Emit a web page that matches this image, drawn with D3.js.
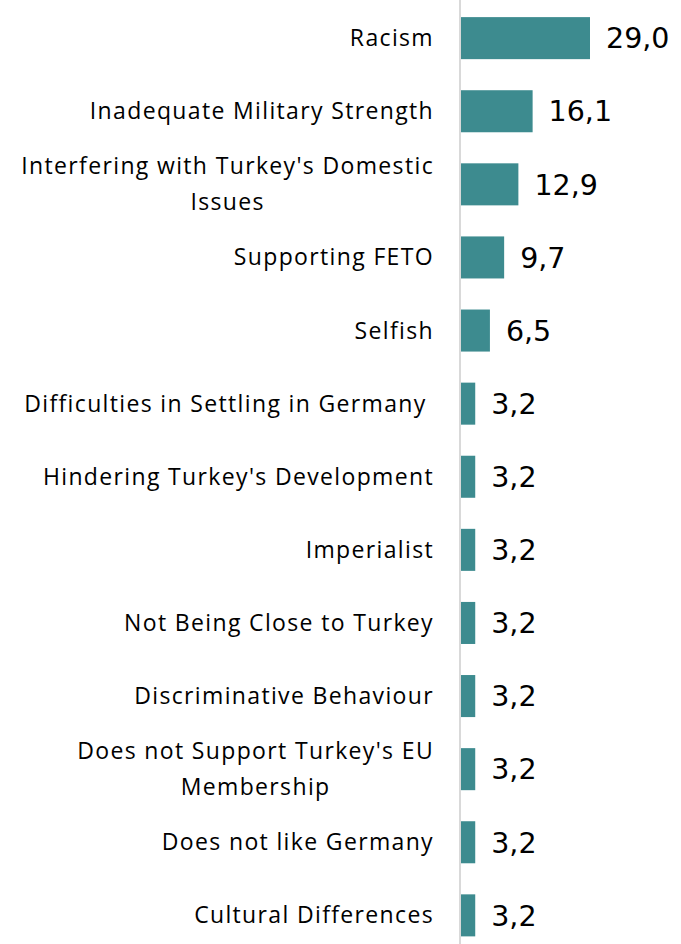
<!DOCTYPE html>
<html>
<head>
<meta charset="utf-8">
<script src="https://d3js.org/d3.v7.min.js"></script>
<style>
    *{ margin:0; padding:0; }
    body{ background:#fff; }
</style>
</head>
<body>
<svg id="chart"></svg>
<script>
    // data
    const categories = [
        ["Racism"],
        ["Inadequate Military Strength"],
        ["Interfering with Turkey's Domestic", "Issues"],
        ["Supporting FETO"],
        ["Selfish"],
        ["Difficulties in Settling in Germany\u00a0"],
        ["Hindering Turkey's Development"],
        ["Imperialist"],
        ["Not Being Close to Turkey"],
        ["Discriminative Behaviour"],
        ["Does not Support Turkey's EU", "Membership"],
        ["Does not like Germany"],
        ["Cultural Differences"]
    ];
    const values = [29.0, 16.1, 12.9, 9.7, 6.5, 3.2, 3.2, 3.2, 3.2, 3.2, 3.2, 3.2, 3.2];

    const width = 681, height = 944;
    const svg = d3.select("#chart").attr("width", width).attr("height", height);

    const x = d3.scaleLinear().domain([0, 29]).range([461, 590]);
    const y = d3.scaleBand()
        .domain(d3.range(values.length))
        .range([2.5, 951])
        .paddingInner(0.425)
        .paddingOuter(0.2);

    // bars
    svg.selectAll("rect.bar")
        .data(values)
        .join("rect")
        .attr("class", "bar")
        .attr("x", x(0))
        .attr("y", (d, i) => y(i))
        .attr("width", d => x(d) - x(0))
        .attr("height", y.bandwidth())
        .attr("fill", "#3d8b8f");

    // axis line
    svg.append("line")
        .attr("x1", 460).attr("x2", 460)
        .attr("y1", 0).attr("y2", height)
        .attr("stroke", "#d9d9d9")
        .attr("stroke-width", 2);

    // value labels
    svg.selectAll("text.val")
        .data(values)
        .join("text")
        .attr("class", "val")
        .attr("x", d => x(d) + 16)
        .attr("y", (d, i) => y(i) + y.bandwidth() / 2)
        .attr("dy", "0.36em")
        .style("font-family", "DejaVu Sans, sans-serif")
        .style("font-size", "28.5px")
        .attr("fill", "#000")
        .text(d => d.toFixed(1).replace(".", ","));

    // category labels
    const lab = svg.selectAll("text.cat")
        .data(categories)
        .join("text")
        .attr("class", "cat")
        .attr("text-anchor", "end")
        .attr("xml:space", "preserve")
        .style("font-family", "Open Sans, sans-serif")
        .style("font-size", "23px")
        .style("letter-spacing", "1.35px")
        .attr("fill", "#000");

    lab.each(function(lines, i) {
        const cy = y(i) + y.bandwidth() / 2;
        const lh = 36;
        const t = d3.select(this);
        lines.forEach((s, j) => {
            t.append("tspan")
                .attr("x", 434)
                .attr("y", cy + (j - (lines.length - 1) / 2) * lh)
                .attr("dy", "0.35em")
                .text(s);
        });
    });
    // two-line labels: second line centred under the first
    lab.filter(d => d.length > 1).each(function() {
        const t = d3.select(this);
        const spans = t.selectAll("tspan").nodes();
        const w0 = spans[0].getComputedTextLength();
        const mid = 434 - w0 / 2;
        t.attr("text-anchor", "middle");
        spans.forEach(n => d3.select(n).attr("x", mid));
    });
</script>
</body>
</html>
